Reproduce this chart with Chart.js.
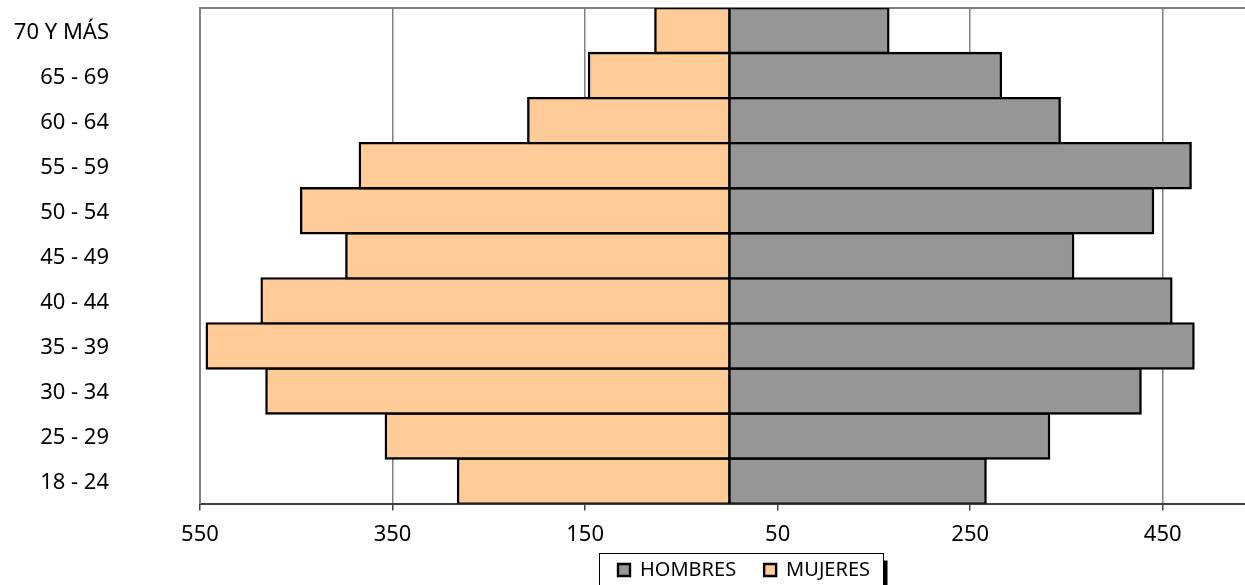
<!DOCTYPE html>
<html lang="es">
<head>
<meta charset="utf-8">
<title>Pirámide de población</title>
<script src="https://cdn.jsdelivr.net/npm/chart.js@4.4.1/dist/chart.umd.min.js"></script>
<style>
  html, body { margin: 0; padding: 0; background: #ffffff; overflow: hidden; }
  /* el área del gráfico es algo más ancha que la ventana, como en el original recortado */
  #zona-grafico { position: relative; width: 1262px; height: 585px; }
</style>
</head>
<body>
<div id="zona-grafico"><canvas id="piramide"></canvas></div>
<script>
// Grupos de edad, de abajo hacia arriba
const gruposEdad = ['18 - 24', '25 - 29', '30 - 34', '35 - 39', '40 - 44', '45 - 49',
                    '50 - 54', '55 - 59', '60 - 64', '65 - 69', '70 Y MÁS'];

// Valores
const hombres = [266, 332, 427, 482, 459, 357, 440, 479, 343, 282, 165];
const mujeres = [282, 357, 481, 543, 486, 398, 445, 384, 209, 146, 77];

// Marcas del eje horizontal (se muestran en valor absoluto)
const marcasEje = [-550, -350, -150, 50, 250, 450];

const colores = {
    hombres: '#969696',
    mujeres: '#FFCC99',
    borde: '#000000',
    marco: '#808080',
    eje: '#404040'
};
const fuente = "'Noto Sans', sans-serif";

// Plugin: borde superior del área, posición y marco de la leyenda
const marcoPlugin = {
    id: 'marco',
    afterLayout(chart) {
        // Colocar la leyenda donde está en el original
        const lg = chart.legend;
        const pad = lg.options.labels.padding;
        const x0 = (lg.left + pad + lg.right - lg.lineWidths[0]) / 2;
        const dx = 618 - x0;
        lg.left += dx;
        lg.right += dx;
        lg.top = 532;
        lg.bottom = 600; // la leyenda recorta su dibujo a su propia caja
    },
    beforeDatasetsDraw(chart) {
        const { ctx, chartArea } = chart;
        ctx.save();
        ctx.strokeStyle = colores.marco;
        ctx.lineWidth = 2;
        ctx.beginPath();
        ctx.moveTo(chartArea.left, chartArea.top);
        ctx.lineTo(chartArea.right, chartArea.top);
        ctx.lineTo(chartArea.right, chartArea.bottom);
        ctx.stroke();
        ctx.restore();
    },
    afterDraw(chart) {
        const { ctx } = chart;
        const lg = chart.legend;
        const pad = lg.options.labels.padding;
        const x0 = (lg.left + pad + lg.right - lg.lineWidths[0]) / 2;
        const izq = Math.round(x0 - 19) + 0.5;
        const der = Math.round(x0 + lg.lineWidths[0] - pad + 13) + 0.5;
        const arriba = Math.round(lg.top + pad - 7) + 0.5;
        const abajo = arriba + 40;

        ctx.save();
        // Sombra del marco
        ctx.fillStyle = '#000000';
        ctx.fillRect(der, arriba + 7, 4, abajo - arriba);
        // Marco
        ctx.strokeStyle = '#000000';
        ctx.lineWidth = 1;
        ctx.strokeRect(izq, arriba, der - izq, abajo - arriba);
        ctx.restore();
    }
};

const ctx = document.getElementById('piramide').getContext('2d');

const grafico = new Chart(ctx, {
    type: 'bar',
    data: {
        labels: gruposEdad,
        datasets: [
            {
                label: 'HOMBRES',
                data: hombres,
                backgroundColor: colores.hombres,
                borderColor: colores.borde,
                borderWidth: 2.4,
                borderSkipped: false,
                inflateAmount: 1.2,
                barPercentage: 1,
                categoryPercentage: 1
            },
            {
                label: 'MUJERES',
                data: mujeres.map(v => -v),
                backgroundColor: colores.mujeres,
                borderColor: colores.borde,
                borderWidth: 2.4,
                borderSkipped: false,
                inflateAmount: 1.2,
                barPercentage: 1,
                categoryPercentage: 1
            }
        ]
    },
    options: {
        indexAxis: 'y',
        responsive: true,
        maintainAspectRatio: false,
        animation: false,
        layout: {
            padding: { top: 8, right: 3, left: 0, bottom: 0 }
        },
        plugins: {
            tooltip: { enabled: false },
            legend: {
                position: 'bottom',
                maxHeight: 26,
                labels: {
                    color: '#000000',
                    boxWidth: 12,
                    boxHeight: 12,
                    padding: 28,
                    font: { family: fuente, size: 20 }
                }
            }
        },
        scales: {
            x: {
                type: 'linear',
                stacked: true,
                min: -550,
                max: 550,
                afterBuildTicks: function(scale) {
                    scale.ticks = marcasEje.map(v => ({ value: v }));
                },
                ticks: {
                    color: '#000000',
                    padding: 11,
                    maxRotation: 0,
                    font: { family: fuente, size: 22 },
                    callback: function(value) {
                        return Math.abs(value);
                    }
                },
                grid: {
                    color: colores.marco,
                    lineWidth: 1.5,
                    tickLength: 7,
                    tickColor: colores.eje
                },
                border: {
                    color: colores.eje,
                    width: 2
                }
            },
            y: {
                stacked: true,
                reverse: true,
                afterFit: function(scale) {
                    // ancho fijo del eje y sin el relleno vertical que añade ticks.padding
                    scale.width = 200;
                    scale.paddingTop = 0;
                    scale.paddingBottom = 0;
                },
                ticks: {
                    color: '#000000',
                    padding: 91,
                    labelOffset: 2,
                    font: { family: fuente, size: 22 }
                },
                grid: {
                    drawOnChartArea: false,
                    drawTicks: false
                },
                border: {
                    color: colores.marco,
                    width: 2
                }
            }
        }
    },
    plugins: [marcoPlugin]
});
</script>
</body>
</html>
